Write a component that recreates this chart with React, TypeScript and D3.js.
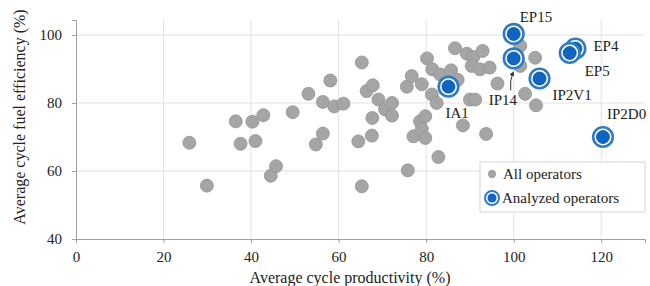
import React, { useEffect, useRef } from 'react';
import * as d3 from 'd3';

// all operators (productivity %, fuel efficiency %)
const ALL_X = [25.9, 29.9, 36.5, 37.6, 40.3, 41, 42.8, 44.5, 45.7, 49.5, 53.1, 54.8, 56.4, 56.4, 58.1, 59, 61.1, 64.5, 65.3, 65.3,
  66.4, 67.8, 67.7, 67.6, 69.1, 70.6, 72.2, 72.2, 75.6, 75.8, 76.7, 77.1, 78.6, 79, 79, 79.8, 79.8, 80.2, 81.4, 81.3,
  82.4, 82.8, 83.2, 85.7, 86.6, 87.2, 88.4, 89.3, 90.8, 92.9, 90.4, 92.3, 94.5, 90, 91.2, 93.7, 96.3, 101.5, 104.9, 101.5,
  102.6, 105.1];
const ALL_Y = [68.3, 55.7, 74.6, 68, 74.5, 68.8, 76.4, 58.6, 61.4, 77.3, 82.7, 67.8, 71, 80.3, 86.6, 79, 79.8, 68.7, 91.9, 55.5,
  83.5, 85.2, 75.6, 70.4, 81, 78.1, 80, 76.3, 84.8, 60.2, 87.9, 70.2, 74.6, 72.4, 85.5, 76.1, 69.7, 93.1, 89.9, 82.5,
  80, 64.1, 88.4, 89.6, 96.1, 86.8, 73.4, 94.5, 93.5, 95.3, 90.9, 89.9, 90.4, 81, 81, 70.9, 85.7, 96.8, 93.3, 90.9,
  82.7, 79.3];

// analyzed operators
const NAMES = ['IA1', 'EP15', 'IP14', 'IP2V1', 'EP4', 'EP5', 'IP2D0'];
const SEL_X = [85.1, 100, 100, 105.9, 114.1, 112.8, 120.4];
const SEL_Y = [84.8, 100.3, 93.1, 87.2, 96, 94.7, 70];

const X_TICKS = [0, 20, 40, 60, 80, 100, 120];
const Y_TICKS = [40, 60, 80, 100];

// label offsets from the marker, in px
const LABEL_OFF: Record<string, [number, number]> = {
  IA1: [-3, 31],
  EP15: [6, -12],
  IP14: [-25, 47],
  IP2V1: [13, 22],
  EP4: [18, 2],
  EP5: [15, 23],
  IP2D0: [4, -18],
};

const FONT = '"Liberation Serif", "Times New Roman", serif';
const GRAY = '#a5a5a5';
const BLUE = '#0f66c2';
const RING = '#2f7cc6';

export default function App() {
  const ref = useRef<SVGSVGElement>(null);

  useEffect(() => {
    const svg = d3.select(ref.current);
    svg.selectAll('*').remove();

    const x = d3.scaleLinear().domain([0, 130]).range([76, 645]);
    const y = d3.scaleLinear().domain([40, 104.4]).range([239, 20]);

    // grid
    svg.append('g')
      .selectAll('line')
      .data(X_TICKS.slice(1))
      .join('line')
      .attr('x1', d => x(d)).attr('x2', d => x(d))
      .attr('y1', y(104.4)).attr('y2', y(40))
      .attr('stroke', '#e2e2e2');
    svg.append('g')
      .selectAll('line')
      .data(Y_TICKS.slice(1))
      .join('line')
      .attr('x1', x(0)).attr('x2', x(130))
      .attr('y1', d => y(d)).attr('y2', d => y(d))
      .attr('stroke', '#e2e2e2');

    // axes
    const xAxis = svg.append('g')
      .attr('transform', `translate(0,${y(40)})`)
      .call(d3.axisBottom(x).tickValues(X_TICKS).tickSize(4).tickPadding(8));
    const yAxis = svg.append('g')
      .attr('transform', `translate(${x(0)},0)`)
      .call(d3.axisLeft(y).tickValues(Y_TICKS).tickSize(4).tickPadding(10));
    [xAxis, yAxis].forEach(a => {
      a.select('.domain').attr('stroke', '#a0a0a0');
      a.selectAll('.tick line').attr('stroke', '#a0a0a0');
      a.selectAll('.tick text')
        .attr('fill', '#222')
        .style('font-family', FONT)
        .style('font-size', '15px');
    });

    svg.append('text')
      .attr('x', 350).attr('y', 283)
      .attr('text-anchor', 'middle')
      .style('font-family', FONT).style('font-size', '16px').attr('fill', '#222')
      .text('Average cycle productivity (%)');
    svg.append('text')
      .attr('transform', 'translate(25,117) rotate(-90)')
      .attr('text-anchor', 'middle')
      .style('font-family', FONT).style('font-size', '16px').attr('fill', '#222')
      .text('Average cycle fuel efficiency (%)');

    // all operators
    svg.append('g')
      .selectAll('circle')
      .data(ALL_X.map((v, i) => [v, ALL_Y[i]]))
      .join('circle')
      .attr('cx', d => x(d[0])).attr('cy', d => y(d[1]))
      .attr('r', 6.5)
      .attr('fill', GRAY)
      .attr('stroke', '#939393')
      .attr('stroke-width', 0.8);

    // analyzed operators
    const sel = NAMES.map((n, i) => ({ name: n, px: x(SEL_X[i]), py: y(SEL_Y[i]) }));
    const g = svg.append('g').selectAll('g').data(sel).join('g')
      .attr('transform', d => `translate(${d.px},${d.py})`);
    g.append('circle').attr('r', 9.8).attr('fill', 'white').attr('stroke', RING).attr('stroke-width', 2.6);
    g.append('circle').attr('r', 6.5).attr('fill', BLUE).attr('stroke', '#0b4f99').attr('stroke-width', 0.8);

    svg.append('g')
      .selectAll('text')
      .data(sel)
      .join('text')
      .attr('x', d => d.px + LABEL_OFF[d.name][0])
      .attr('y', d => d.py + LABEL_OFF[d.name][1])
      .style('font-family', FONT).style('font-size', '15px').attr('fill', '#222')
      .text(d => d.name);

    // little arrow pointing at IP14
    const ip = sel[2];
    svg.append('defs').append('marker')
      .attr('id', 'ah').attr('viewBox', '0 0 6 6').attr('refX', 3).attr('refY', 3)
      .attr('markerWidth', 5).attr('markerHeight', 5).attr('orient', 'auto')
      .append('path').attr('d', 'M0,0L6,3L0,6Z').attr('fill', '#333');
    svg.append('path')
      .attr('d', `M${ip.px - 3},${ip.py + 32} Q${ip.px - 4},${ip.py + 22} ${ip.px - 1},${ip.py + 15}`)
      .attr('fill', 'none').attr('stroke', '#333').attr('stroke-width', 1)
      .attr('marker-end', 'url(#ah)');

    // legend
    const lg = svg.append('g');
    lg.append('rect')
      .attr('x', 480).attr('y', 162).attr('width', 165).attr('height', 50)
      .attr('fill', 'white').attr('stroke', '#d4d4d4');
    lg.append('circle').attr('cx', 492).attr('cy', 174).attr('r', 4.2).attr('fill', GRAY);
    lg.append('circle').attr('cx', 492).attr('cy', 198).attr('r', 7).attr('fill', 'white').attr('stroke', RING).attr('stroke-width', 2);
    lg.append('circle').attr('cx', 492).attr('cy', 198).attr('r', 4.5).attr('fill', BLUE);
    lg.append('text').attr('x', 503).attr('y', 179)
      .style('font-family', FONT).style('font-size', '15px').attr('fill', '#222')
      .text('All operators');
    lg.append('text').attr('x', 502).attr('y', 203)
      .style('font-family', FONT).style('font-size', '15px').attr('fill', '#222')
      .text('Analyzed operators');
  }, []);

  return (
    <svg ref={ref} width={650} height={286}
      style={{ position: 'absolute', left: 0, top: 0, background: 'white' }} />
  );
}
